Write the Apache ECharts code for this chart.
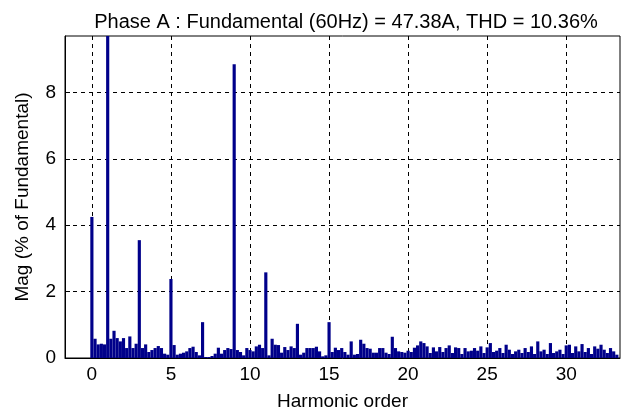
<!DOCTYPE html>
<html>
<head>
<meta charset="utf-8">
<script src="https://cdn.jsdelivr.net/npm/echarts@6/dist/echarts.min.js"></script>
<style>html,body{margin:0;padding:0;background:#fff}#c{width:626px;height:416px}</style>
</head>
<body>
<div id="c"></div>
<script>
// Spectrum resolution (harmonic order units per bar)
const step = 0.2;
// Magnitude (% of fundamental) for harmonic order 0, 0.2, 0.4, ... 33.2
const mag = [
  4.25, 0.58, 0.41, 0.43, 0.41,   // 0
  100,  0.58, 0.82, 0.60, 0.50,   // 1
  0.60, 0.30, 0.65, 0.30, 0.43,   // 2
  3.55, 0.30, 0.41, 0.18, 0.24,   // 3
  0.30, 0.36, 0.30, 0.13, 0.10,   // 4
  2.38, 0.39, 0.10, 0.13, 0.16,   // 5
  0.20, 0.30, 0.34, 0.18, 0.08,   // 6
  1.08, 0.03, 0.03, 0.06, 0.13,   // 7
  0.31, 0.13, 0.24, 0.30, 0.27,   // 8
  8.85, 0.24, 0.18, 0.08, 0.30,   // 9
  0.24, 0.20, 0.35, 0.40, 0.30,   // 10
  2.58, 0.08, 0.58, 0.40, 0.39,   // 11
  0.16, 0.33, 0.24, 0.35, 0.30,   // 12
  1.03, 0.10, 0.16, 0.30, 0.30,   // 13
  0.30, 0.34, 0.20, 0.05, 0.08,   // 14
  1.08, 0.18, 0.31, 0.24, 0.30,   // 15
  0.18, 0.10, 0.50, 0.10, 0.12,   // 16
  0.55, 0.43, 0.30, 0.28, 0.16,   // 17
  0.16, 0.30, 0.30, 0.16, 0.12,   // 18
  0.64, 0.30, 0.20, 0.18, 0.16,   // 19
  0.22, 0.18, 0.31, 0.38, 0.50,   // 20
  0.45, 0.35, 0.15, 0.32, 0.20,   // 21
  0.33, 0.18, 0.30, 0.38, 0.15,   // 22
  0.32, 0.30, 0.12, 0.30, 0.20,   // 23
  0.22, 0.30, 0.22, 0.35, 0.15,   // 24
  0.32, 0.45, 0.18, 0.22, 0.30,   // 25
  0.15, 0.40, 0.25, 0.12, 0.20,   // 26
  0.25, 0.15, 0.30, 0.18, 0.35,   // 27
  0.12, 0.50, 0.20, 0.25, 0.12,   // 28
  0.45, 0.15, 0.20, 0.25, 0.12,   // 29
  0.38, 0.40, 0.15, 0.35, 0.20,   // 30
  0.42, 0.18, 0.30, 0.12, 0.35,   // 31
  0.28, 0.40, 0.25, 0.15, 0.30,   // 32
  0.20, 0.10                      // 33
];
const xTicks = [0, 5, 10, 15, 20, 25, 30];
const yTicks = [0, 2, 4, 6, 8];
const titleText = 'Phase A : Fundamental (60Hz) = 47.38A, THD = 10.36%';
const xName = 'Harmonic order';
const yName = 'Mag (% of Fundamental)';

const data = mag.map((v, i) => [+(i * step).toFixed(1), v]);
const FONT = '"Liberation Sans", Arial, sans-serif';

const chart = echarts.init(document.getElementById('c'), null, {renderer: 'canvas'});
chart.setOption({
  animation: false,
  backgroundColor: '#fff',
  title: {
    text: titleText, left: 341, top: 7, textAlign: 'center',
    textStyle: {fontFamily: FONT, fontSize: 20, fontWeight: 'normal', color: '#000'}
  },
  grid: {left: 65, top: 36, right: 6, bottom: 57, show: true, borderColor: '#000', borderWidth: 1, backgroundColor: '#fff'},
  xAxis: {
    type: 'value', min: -1.7, max: 33.4,
    name: xName, nameLocation: 'middle', nameGap: 34,
    nameTextStyle: {fontFamily: FONT, fontSize: 19, color: '#000'},
    axisLine: {show: true, onZero: false, lineStyle: {color: '#000'}},
    axisTick: {show: true, inside: true, length: 5, customValues: xTicks, lineStyle: {color: '#000'}},
    axisLabel: {customValues: xTicks, fontFamily: FONT, fontSize: 19, color: '#000', margin: 7},
    splitLine: {show: true, lineStyle: {color: '#000', type: [4, 4], width: 1}}
  },
  yAxis: {
    type: 'value', min: 0, max: 9.7,
    name: yName, nameLocation: 'middle', nameGap: 33, nameRotate: 90,
    nameTextStyle: {fontFamily: FONT, fontSize: 19, color: '#000'},
    axisLine: {show: true, onZero: false, lineStyle: {color: '#000'}},
    axisTick: {show: true, inside: true, length: 5, customValues: yTicks, lineStyle: {color: '#000'}},
    axisLabel: {customValues: yTicks, fontFamily: FONT, fontSize: 19, color: '#000', margin: 9},
    splitLine: {show: true, lineStyle: {color: '#000', type: [4, 4], width: 1}}
  },
  series: [{
    type: 'custom',
    data: data,
    renderItem: function (params, api) {
      const x = api.value(0), y = api.value(1);
      const p0 = api.coord([x - step / 2, 0]);
      const p1 = api.coord([x + step / 2, y]);
      const cs = params.coordSys;
      const rect = echarts.graphic.clipRectByRect(
        {x: p0[0], y: p1[1], width: p1[0] - p0[0], height: p0[1] - p1[1]},
        {x: cs.x, y: cs.y, width: cs.width, height: cs.height}
      );
      return rect && {type: 'rect', shape: rect, style: {fill: '#00008a'}};
    }
  }]
});
</script>
</body>
</html>
